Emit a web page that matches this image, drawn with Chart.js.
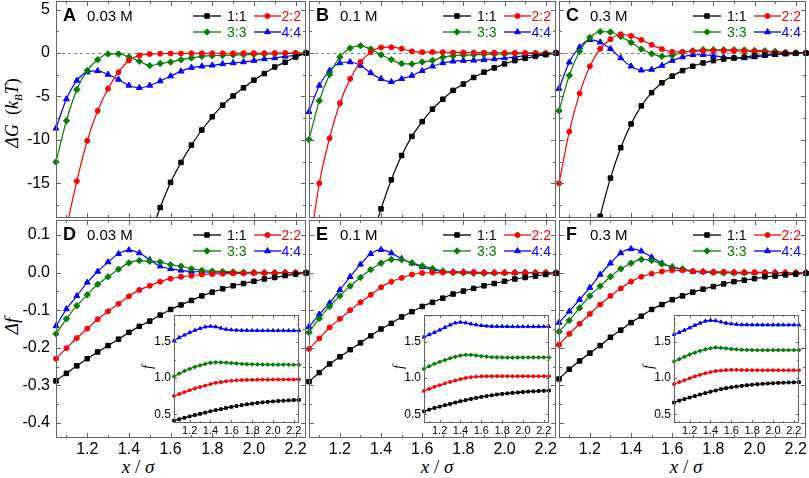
<!DOCTYPE html>
<html>
<head>
<meta charset="utf-8">
<script src="https://cdn.jsdelivr.net/npm/chart.js@4.4.1/dist/chart.umd.min.js"></script>
<style>
  body { margin: 0; background: #fff; width: 809px; height: 478px; overflow: hidden; position: relative; }
  canvas { position: absolute; }
  .t { position: absolute; font-family: "Liberation Serif", "Times New Roman", serif; white-space: nowrap; color: #000; }
  .t i { font-style: italic; }
  .rot { transform: translate(-50%, -50%) rotate(-90deg); }
  .ctr { transform: translate(-50%, -50%); }
</style>
</head>
<body>
<div class="t rot" style="left:13px;top:113px;font-size:18px;"><i>ΔG</i>&nbsp;&nbsp;(<i>k</i><sub style="font-size:11px"><i>B</i></sub><i>T</i>)</div>
<div class="t rot" style="left:12px;top:326px;font-size:19px;"><i>Δf</i></div>
<div class="t ctr" style="left:138px;top:467px;font-size:19px;"><i>x</i> / <i>σ</i></div>
<div class="t ctr" style="left:437px;top:467px;font-size:19px;"><i>x</i> / <i>σ</i></div>
<div class="t ctr" style="left:686px;top:467px;font-size:19px;"><i>x</i> / <i>σ</i></div>
<div class="t rot" style="left:148px;top:367px;font-size:14px;"><i>f</i></div>
<div class="t rot" style="left:399px;top:367px;font-size:14px;"><i>f</i></div>
<div class="t rot" style="left:649px;top:367px;font-size:14px;"><i>f</i></div>
<script>
// x positions of the points (x / sigma)
var xs = [1.05,1.10,1.15,1.20,1.25,1.30,1.35,1.40,1.45,1.50,1.55,1.60,1.65,1.70,1.75,1.80,1.85,1.90,1.95,2.00,2.05,2.10,2.15,2.20,2.25];
// tick values
var xMajor = [1.2,1.4,1.6,1.8,2.0,2.2];
var xMinor = [1.1,1.3,1.5,1.7,1.9,2.1];
var gTicks = [5,0,-5,-10,-15];
var gMinor = [2.5,-2.5,-7.5,-12.5,-17.5];
var fTicks = [0.1,0.0,-0.1,-0.2,-0.3,-0.4];
var fMinor = [0.05,-0.05,-0.15,-0.25,-0.35];
var insTicks = [0.5,1.0,1.5];
var insMinor = [0.75,1.25,1.75];

var seriesNames = ["1:1","2:2","3:3","4:4"];
var letters = ["A","B","C","D","E","F"];
var salts = ["0.03 M","0.1 M","0.3 M"];

// Delta G, panel A (0.03 M)
var A11 = [-87,-75,-65,-56,-48,-41,-35,-30,-25.5,-21.3,-17.8,-14.9,-12.6,-10.6,-8.86,-7.34,-6.0,-4.94,-4.0,-3.12,-2.36,-1.6,-1.06,-0.46,0];
var A22 = [-27,-20.3,-14.75,-10.1,-6.65,-4.1,-2.2,-0.85,-0.27,-0.11,-0.07,-0.05,-0.04,-0.03,-0.03,-0.02,-0.02,-0.02,-0.01,-0.01,-0.01,0,0,0,0];
var A33 = [-12.55,-7.8,-4.2,-2.0,-0.76,-0.1,-0.1,-0.45,-0.95,-1.45,-1.2,-1.03,-0.76,-0.57,-0.38,-0.3,-0.27,-0.23,-0.19,-0.15,-0.1,-0.08,-0.05,-0.02,0];
var A44 = [-8.67,-5.3,-3.16,-2.2,-2.05,-2.47,-3.04,-3.73,-4.0,-3.73,-3.23,-2.66,-2.1,-1.67,-1.52,-1.41,-1.25,-1.14,-1.03,-0.87,-0.68,-0.57,-0.38,-0.27,0];
// Delta G, panel B (0.1 M)
var B11 = [-68,-57,-48,-40,-33,-27,-22,-17.95,-14.6,-11.8,-9.6,-7.9,-6.46,-5.32,-4.3,-3.57,-2.81,-2.2,-1.71,-1.25,-0.87,-0.61,-0.38,-0.19,0];
var B22 = [-23,-15.0,-9.8,-5.78,-2.97,-1.03,0.1,0.65,0.68,0.5,0.19,0.11,0.12,0.1,0.08,0.07,0.06,0.05,0.04,0.03,0.02,0.02,0.01,0.01,0];
var B33 = [-9.96,-5.5,-2.47,-0.46,0.57,0.84,0.46,-0.19,-0.76,-1.22,-1.25,-1.03,-0.84,-0.49,-0.3,-0.23,-0.19,-0.15,-0.12,-0.1,-0.08,-0.05,-0.03,-0.02,0];
var B44 = [-6.77,-3.73,-2.02,-1.14,-1.03,-1.44,-2.28,-2.97,-3.31,-2.97,-2.59,-2.05,-1.52,-1.14,-0.95,-0.87,-0.84,-0.76,-0.68,-0.57,-0.46,-0.3,-0.23,-0.15,0];
// Delta G, panel C (0.3 M)
var C11 = [-45,-37,-30,-24,-18.8,-14.4,-10.9,-8.17,-6.08,-4.56,-3.42,-2.66,-2.02,-1.52,-1.14,-0.87,-0.68,-0.57,-0.46,-0.3,-0.19,-0.11,-0.07,-0.03,0];
var C22 = [-15.0,-9.05,-4.64,-1.52,0.49,1.6,2.17,1.98,1.52,0.95,0.46,0.15,0.15,0.2,0.25,0.27,0.27,0.25,0.22,0.18,0.14,0.1,0.06,0.03,0];
var C33 = [-6.65,-2.59,0.19,1.79,2.47,2.43,1.9,1.22,0.46,-0.08,-0.38,-0.27,0.11,0.27,0.38,0.38,0.38,0.38,0.35,0.3,0.27,0.19,0.1,0.05,0];
var C44 = [-4.1,-1.06,0.68,1.52,1.25,0.49,-0.57,-1.52,-1.98,-1.9,-1.44,-0.87,-0.46,-0.19,-0.19,-0.3,-0.46,-0.57,-0.57,-0.46,-0.3,-0.19,-0.1,-0.05,0];

// Delta f, panel D (0.03 M)
var D11 = [-0.288,-0.268,-0.248,-0.229,-0.211,-0.194,-0.177,-0.159,-0.143,-0.129,-0.113,-0.098,-0.086,-0.074,-0.062,-0.052,-0.043,-0.035,-0.029,-0.023,-0.017,-0.013,-0.008,-0.004,-0.001];
var D22 = [-0.229,-0.201,-0.174,-0.149,-0.124,-0.103,-0.083,-0.063,-0.046,-0.035,-0.024,-0.016,-0.011,-0.008,-0.005,-0.004,-0.003,-0.002,-0.002,-0.001,-0.001,-0.001,0,0,0];
var D33 = [-0.163,-0.123,-0.088,-0.059,-0.031,-0.011,0.009,0.026,0.032,0.030,0.028,0.021,0.017,0.010,0.006,0.004,0.003,0.002,0.001,0.001,0,0,0,0,0];
var D44 = [-0.142,-0.097,-0.062,-0.026,0.003,0.028,0.050,0.060,0.052,0.034,0.017,0.010,0.006,0.003,0.002,0.001,0.001,0,0,0,0,0,0,0,0];
// Delta f, panel E (0.1 M)
var E11 = [-0.290,-0.266,-0.243,-0.224,-0.205,-0.187,-0.168,-0.150,-0.135,-0.118,-0.104,-0.090,-0.079,-0.068,-0.057,-0.049,-0.042,-0.035,-0.029,-0.023,-0.017,-0.013,-0.009,-0.005,-0.002];
var E22 = [-0.203,-0.175,-0.146,-0.123,-0.100,-0.079,-0.059,-0.039,-0.024,-0.014,-0.005,-0.001,0,0,0.001,0.001,0.001,0,0,0,0,0,0,0,0];
var E33 = [-0.159,-0.122,-0.090,-0.062,-0.036,-0.013,0.008,0.025,0.035,0.034,0.026,0.018,0.011,0.004,0,-0.001,-0.002,-0.002,-0.001,-0.001,0,0,0,0,0];
var E44 = [-0.144,-0.111,-0.081,-0.046,-0.011,0.022,0.050,0.061,0.052,0.037,0.025,0.015,0.008,0.003,0.002,0.002,0.001,0,0,0,0,0,0,0,0];
// Delta f, panel F (0.3 M)
var F11 = [-0.283,-0.257,-0.235,-0.214,-0.194,-0.172,-0.153,-0.133,-0.116,-0.098,-0.085,-0.072,-0.062,-0.052,-0.044,-0.037,-0.030,-0.024,-0.020,-0.016,-0.011,-0.009,-0.006,-0.004,-0.002];
var F22 = [-0.192,-0.163,-0.136,-0.110,-0.085,-0.062,-0.042,-0.024,-0.011,-0.003,0.003,0.006,0.006,0.004,0.003,0.002,0.002,0.001,0.001,0.001,0,0,0,0,0];
var F33 = [-0.157,-0.127,-0.094,-0.062,-0.036,-0.011,0.010,0.025,0.035,0.032,0.023,0.015,0.010,0.004,0.002,0,-0.001,-0.001,-0.001,0,0,0,0,0,0];
var F44 = [-0.133,-0.103,-0.072,-0.040,-0.005,0.025,0.052,0.063,0.057,0.041,0.025,0.015,0.008,0.003,0.002,0.001,0.001,0,0,0,0,0,0,0,0];

// insets: f itself
var fD11 = [0.412,0.432,0.452,0.471,0.489,0.506,0.523,0.541,0.557,0.571,0.587,0.602,0.614,0.626,0.638,0.648,0.657,0.665,0.671,0.677,0.683,0.687,0.692,0.696,0.699];
var fD22 = [0.751,0.779,0.806,0.831,0.856,0.877,0.897,0.917,0.934,0.945,0.956,0.964,0.969,0.972,0.975,0.976,0.977,0.978,0.978,0.979,0.979,0.979,0.98,0.98,0.98];
var fD33 = [1.022,1.062,1.097,1.126,1.154,1.174,1.194,1.211,1.217,1.215,1.213,1.206,1.202,1.195,1.191,1.189,1.188,1.187,1.186,1.186,1.185,1.185,1.185,1.185,1.185];
var fD44 = [1.513,1.558,1.593,1.629,1.658,1.683,1.705,1.715,1.707,1.689,1.672,1.665,1.661,1.658,1.657,1.656,1.656,1.655,1.655,1.655,1.655,1.655,1.655,1.655,1.655];
var fE11 = [0.540,0.564,0.587,0.606,0.625,0.643,0.662,0.680,0.695,0.712,0.726,0.740,0.751,0.762,0.773,0.781,0.788,0.795,0.801,0.807,0.813,0.817,0.821,0.825,0.828];
var fE22 = [0.822,0.850,0.879,0.902,0.925,0.946,0.966,0.986,1.001,1.011,1.020,1.024,1.025,1.025,1.026,1.026,1.026,1.025,1.025,1.025,1.025,1.025,1.025,1.025,1.025];
var fE33 = [1.126,1.163,1.195,1.223,1.249,1.272,1.293,1.310,1.320,1.319,1.311,1.303,1.296,1.289,1.285,1.284,1.283,1.283,1.284,1.284,1.285,1.285,1.285,1.285,1.285];
var fE44 = [1.566,1.599,1.629,1.664,1.699,1.732,1.760,1.771,1.762,1.747,1.735,1.725,1.718,1.713,1.712,1.712,1.711,1.71,1.71,1.71,1.71,1.71,1.71,1.71,1.71];
var fF11 = [0.662,0.688,0.710,0.731,0.751,0.773,0.792,0.812,0.829,0.847,0.860,0.873,0.883,0.893,0.901,0.908,0.915,0.921,0.925,0.929,0.934,0.936,0.939,0.941,0.943];
var fF22 = [0.915,0.944,0.971,0.997,1.022,1.045,1.065,1.083,1.096,1.104,1.110,1.113,1.113,1.111,1.110,1.109,1.109,1.108,1.108,1.108,1.107,1.107,1.107,1.107,1.107];
var fF33 = [1.229,1.259,1.292,1.324,1.350,1.375,1.396,1.411,1.421,1.418,1.409,1.401,1.396,1.390,1.388,1.386,1.385,1.385,1.385,1.386,1.386,1.386,1.386,1.386,1.386];
var fF44 = [1.600,1.630,1.661,1.693,1.728,1.758,1.785,1.796,1.790,1.774,1.758,1.748,1.741,1.736,1.735,1.734,1.734,1.733,1.733,1.733,1.733,1.733,1.733,1.733,1.733];

var topSets = [[A11,A22,A33,A44],[B11,B22,B33,B44],[C11,C22,C33,C44]];
var botSets = [[D11,D22,D33,D44],[E11,E22,E33,E44],[F11,F22,F33,F44]];
var insSets = [[fD11,fD22,fD33,fD44],[fE11,fE22,fE33,fE44],[fF11,fF22,fF33,fF44]];

// styles
var colors = ["#000000","#ff0000","#008000","#0000ff"];
var shapes = ["rect","circle","rectRot","triangle"];
var radii = [3.2,2.5,3.2,3.4];
var SANS = '"Liberation Sans", Arial, sans-serif';
Chart.defaults.font.family = SANS;

function mark(c, style, r, x, y) {
  if (Chart.helpers && Chart.helpers.drawPoint) {
    Chart.helpers.drawPoint(c, {pointStyle: style, radius: r, borderWidth: 1, rotation: 0}, x, y);
    return;
  }
  c.beginPath();
  if (style === "circle") c.arc(x, y, r, 0, 2 * Math.PI);
  else if (style === "rect") { var s = r * Math.SQRT1_2; c.rect(x - s, y - s, 2 * s, 2 * s); }
  else if (style === "rectRot") { c.moveTo(x, y - r); c.lineTo(x + r, y); c.lineTo(x, y + r); c.lineTo(x - r, y); c.closePath(); }
  else { c.moveTo(x, y - r); c.lineTo(x + r * 0.87, y + r / 2); c.lineTo(x - r * 0.87, y + r / 2); c.closePath(); }
  c.fill(); c.stroke();
}

// frame, inward ticks, zero line, legend, panel label
var decor = {
  id: "decor",
  beforeDraw: function (chart, args, o) {
    if (!o.white) return;
    var a = chart.chartArea, c = chart.ctx;
    c.save(); c.fillStyle = "#fff"; c.fillRect(a.left, a.top, a.right - a.left, a.bottom - a.top); c.restore();
  },
  beforeDatasetsDraw: function (chart, args, o) {
    if (!o.zero) return;
    var a = chart.chartArea, c = chart.ctx, y = Math.round(chart.scales.y.getPixelForValue(0)) + 0.5;
    c.save(); c.strokeStyle = "#8a8a8a"; c.lineWidth = 1; c.setLineDash([3, 3]);
    c.beginPath(); c.moveTo(a.left, y); c.lineTo(a.right, y); c.stroke(); c.restore();
  },
  afterDraw: function (chart, args, o) {
    var a = chart.chartArea, c = chart.ctx, sx = chart.scales.x, sy = chart.scales.y;
    c.save();
    c.strokeStyle = "#666"; c.lineWidth = 1;
    c.strokeRect(a.left + 0.5, a.top + 0.5, a.right - a.left - 1, a.bottom - a.top - 1);
    function xt(vals, len) {
      vals.forEach(function (v) {
        var p = Math.round(sx.getPixelForValue(v)) + 0.5;
        c.beginPath(); c.moveTo(p, a.bottom); c.lineTo(p, a.bottom - len);
        c.moveTo(p, a.top); c.lineTo(p, a.top + len); c.stroke();
      });
    }
    function yt(vals, len) {
      vals.forEach(function (v) {
        var p = Math.round(sy.getPixelForValue(v)) + 0.5;
        if (p <= a.top + 1 || p >= a.bottom - 1) return;
        c.beginPath(); c.moveTo(a.left, p); c.lineTo(a.left + len, p);
        c.moveTo(a.right, p); c.lineTo(a.right - len, p); c.stroke();
      });
    }
    xt(xMajor, o.tl); xt(xMinor, o.tl * 0.6);
    yt(o.yMajor, o.tl); yt(o.yMinor, o.tl * 0.6);
    if (o.legend) {
      c.font = "14px " + SANS; c.textBaseline = "middle";
      for (var i = 0; i < 4; i++) {
        var y = a.top + (i < 2 ? 15 : 31);
        var first = (i % 2 === 0);
        var x0 = first ? a.right - 113 : a.right - 52;
        var x1 = first ? a.right - 85 : a.right - 25;
        c.strokeStyle = colors[i]; c.fillStyle = colors[i]; c.lineWidth = 1.3;
        c.beginPath(); c.moveTo(x0, y); c.lineTo(x1, y); c.stroke();
        c.lineWidth = 1;
        mark(c, shapes[i], radii[i], (x0 + x1) / 2, y);
        c.fillStyle = colors[i];
        if (first) { c.textAlign = "left"; c.fillText(seriesNames[i], a.right - 79, y + 1); }
        else { c.textAlign = "right"; c.fillText(seriesNames[i], a.right - 5, y + 1); }
      }
    }
    if (o.letter) {
      c.fillStyle = "#000"; c.textAlign = "left"; c.textBaseline = "alphabetic";
      c.font = "bold 18px " + SANS; c.fillText(o.letter, a.left + 7, a.top + 20);
      c.font = "15px " + SANS; c.fillText(o.salt, a.left + 31, a.top + 20);
    }
    c.restore();
  }
};

function makeChart(box, m, cfg) {
  var cv = document.createElement("canvas");
  var w = box[2] - box[0] + m.l + m.r, h = box[3] - box[1] + m.t + m.b;
  cv.width = w; cv.height = h;
  cv.style.left = (box[0] - m.l) + "px"; cv.style.top = (box[1] - m.t) + "px";
  cv.style.width = w + "px"; cv.style.height = h + "px";
  document.body.appendChild(cv);
  var datasets = cfg.series.map(function (arr, i) {
    return {
      label: seriesNames[i],
      data: xs.map(function (x, j) { return {x: x, y: arr[j]}; }),
      borderColor: colors[i], backgroundColor: colors[i],
      pointStyle: shapes[i], pointRadius: radii[i] * cfg.ms, pointBorderWidth: 1,
      borderWidth: cfg.lw, cubicInterpolationMode: "monotone",
      clip: {left: 4, right: 4, top: 0, bottom: 0}
    };
  });
  return new Chart(cv, {
    type: "line",
    data: {datasets: datasets},
    options: {
      responsive: false, animation: false, devicePixelRatio: 1,
      layout: {autoPadding: false, padding: {left: cfg.showY ? 0 : m.l, right: m.r, top: m.t, bottom: cfg.showX ? 0 : m.b}},
      plugins: {
        legend: {display: false}, tooltip: {enabled: false},
        decor: {white: cfg.white, zero: cfg.zero, legend: cfg.legend, letter: cfg.letter, salt: cfg.salt,
                yMajor: cfg.yTicks, yMinor: cfg.yMinor, tl: cfg.tl}
      },
      scales: {
        x: {
          type: "linear", min: 1.05, max: 2.25, display: cfg.showX,
          grid: {display: false, drawTicks: false}, border: {display: false},
          ticks: {font: cfg.xFont, color: "#000", padding: cfg.xPad, maxRotation: 0, autoSkip: false,
                  callback: function (v) { return v.toFixed(1); }},
          afterBuildTicks: function (s) { s.ticks = xMajor.map(function (v) { return {value: v}; }); },
          afterFit: function (s) { s.height = m.b; s.paddingLeft = 0; s.paddingRight = 0; }
        },
        y: {
          type: "linear", min: cfg.yMin, max: cfg.yMax, display: cfg.showY,
          grid: {display: false, drawTicks: false}, border: {display: false},
          ticks: {font: cfg.yFont, color: "#000", padding: cfg.yPad, autoSkip: false,
                  callback: function (v) { return cfg.dec ? v.toFixed(1) : String(v); }},
          afterBuildTicks: function (s) { s.ticks = cfg.yTicks.map(function (v) { return {value: v}; }); },
          afterFit: function (s) { s.width = m.l; s.paddingTop = 0; s.paddingBottom = 0; }
        }
      }
    },
    plugins: [decor]
  });
}

var colX = [[56, 306], [306, 556], [556, 806]];
var insetBoxes = [[174, 315, 299, 423], [424, 315, 549, 423], [674, 315, 799, 423]];

for (var k = 0; k < 3; k++) {
  makeChart([colX[k][0], 1, colX[k][1], 220], {l: k === 0 ? 56 : 3, t: 1, r: 3, b: 2}, {
    series: topSets[k], showY: k === 0, showX: false, yMin: -19, yMax: 6,
    yTicks: gTicks, yMinor: gMinor, dec: false, zero: true, legend: true,
    letter: letters[k], salt: salts[k], ms: 1, lw: 1.2, tl: 5,
    xFont: {size: 16}, yFont: {size: 16}, xPad: 3, yPad: 6
  });
  makeChart([colX[k][0], 220, colX[k][1], 438], {l: k === 0 ? 56 : 3, t: 3, r: 12, b: 40}, {
    series: botSets[k], showY: k === 0, showX: true, yMin: -0.44, yMax: 0.14,
    yTicks: fTicks, yMinor: fMinor, dec: true, zero: false, legend: true,
    letter: letters[k + 3], salt: salts[k], ms: 1, lw: 1.2, tl: 5,
    xFont: {size: 16}, yFont: {size: 16}, xPad: 2, yPad: 6
  });
}
for (var k = 0; k < 3; k++) {
  makeChart(insetBoxes[k], {l: 28, t: 2, r: 8, b: 16}, {
    series: insSets[k], showY: true, showX: true, yMin: 0.38, yMax: 1.87,
    yTicks: insTicks, yMinor: insMinor, dec: true, white: true, zero: false, legend: false,
    ms: 0.6, lw: 1.3, tl: 3,
    xFont: {size: 11}, yFont: {size: 12}, xPad: 1, yPad: 3
  });
}
</script>
</body>
</html>
